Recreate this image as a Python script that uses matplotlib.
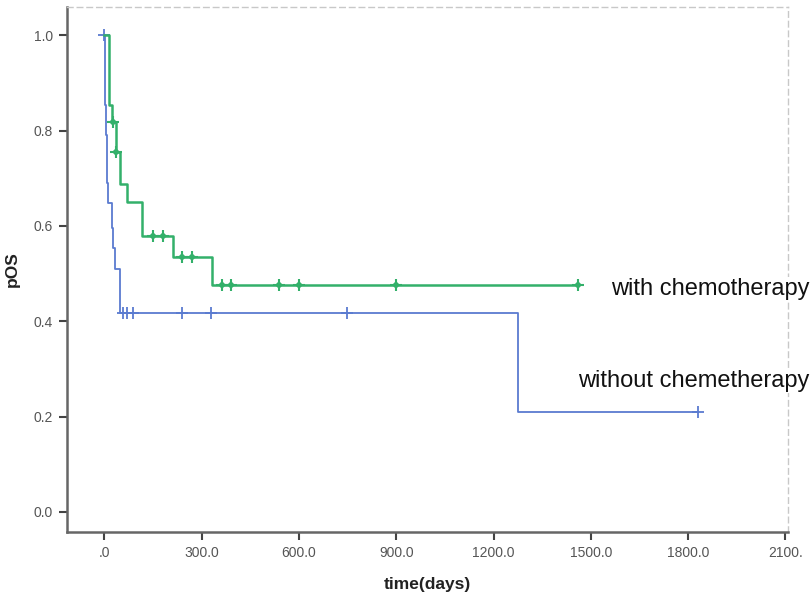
import numpy as np
import matplotlib
matplotlib.use("Agg")
import matplotlib.pyplot as plt

# ---- data ----
chemo_times = [0, 15, 25, 36, 48, 69, 115, 213, 331, 1460]
chemo_surv = [1.0, 0.853, 0.818, 0.755, 0.687, 0.650, 0.579, 0.535, 0.477, 0.477]
chemo_censor = [28, 37, 151, 180, 240, 270, 362, 390, 539, 600, 900, 1460]

nochemo_times = [0, 1, 2, 3, 5, 7, 9, 12, 25, 28, 33, 49, 1277, 1830]
nochemo_surv = [1.0, 0.958, 0.916, 0.853, 0.79, 0.733, 0.69, 0.648, 0.595,
                0.553, 0.509, 0.417, 0.21, 0.21]
nochemo_censor = [0, 57, 71, 88, 240, 329, 749, 1830]

x_ticks = [0, 300, 600, 900, 1200, 1500, 1800, 2100]
x_ticklabels = [".0", "300.0", "600.0", "900.0", "1200.0", "1500.0", "1800.0", "2100."]
y_ticks = [0.0, 0.2, 0.4, 0.6, 0.8, 1.0]
y_ticklabels = ["0.0", "0.2", "0.4", "0.6", "0.8", "1.0"]

label_chemo = "with chemotherapy"
label_nochemo = "without chemetherapy"

green = "#33b06a"
blue = "#5a7bd0"


def surv_at(times, surv, t):
    idx = np.searchsorted(np.asarray(times), np.asarray(t), side="right") - 1
    return np.asarray(surv)[idx]


plt.rcParams["font.family"] = ["Liberation Sans", "DejaVu Sans"]

fig = plt.figure(figsize=(8.12, 5.93), dpi=100)
ax = fig.add_axes([67 / 812, 1 - 532 / 593, (788 - 67) / 812, (532 - 7) / 593])

ax.step(nochemo_times, nochemo_surv, where="post", color=blue, lw=1.3)
ax.plot(nochemo_censor, surv_at(nochemo_times, nochemo_surv, nochemo_censor),
        ls="none", marker="+", ms=8, mew=1.3, color=blue)

ax.step(chemo_times, chemo_surv, where="post", color=green, lw=1.8)
cy = surv_at(chemo_times, chemo_surv, chemo_censor)
ax.plot(chemo_censor, cy, ls="none", marker="+", ms=8, mew=1.5, color=green)
ax.plot(chemo_censor, cy, ls="none", marker="D", ms=4, mew=0, color=green)

ax.set_xlim(-115, 2108)
ax.set_ylim(-0.042, 1.059)

ax.set_xticks(x_ticks)
ax.set_xticklabels(x_ticklabels)
ax.set_yticks(y_ticks)
ax.set_yticklabels(y_ticklabels)
ax.tick_params(axis="both", direction="out", length=6, width=1.5,
               color="#444444", labelcolor="#555555", labelsize=10, pad=4)

ax.set_xlabel("time(days)", fontsize=12.5, fontweight="bold", color="#222222", labelpad=12)
ax.set_ylabel("pOS", fontsize=12.5, fontweight="bold", color="#222222", labelpad=10)

for side in ["left", "bottom"]:
    ax.spines[side].set_color("#666666")
    ax.spines[side].set_linewidth(1.8)
    ax.spines[side].set_linestyle((0, (3, 1)))
for side in ["top", "right"]:
    ax.spines[side].set_color("#c8c8c8")
    ax.spines[side].set_linewidth(1.0)
    ax.spines[side].set_linestyle((0, (4, 3)))

ax.text(1562, 0.4675, label_chemo, fontsize=17, color="#111111", va="center", ha="left",
        clip_on=False, zorder=5,
        bbox=dict(facecolor="white", edgecolor="none", pad=1))
ax.text(1461, 0.2746, label_nochemo, fontsize=17, color="#111111", va="center", ha="left",
        clip_on=False, zorder=5,
        bbox=dict(facecolor="white", edgecolor="none", pad=1))

fig.savefig("out.png", dpi=100)
